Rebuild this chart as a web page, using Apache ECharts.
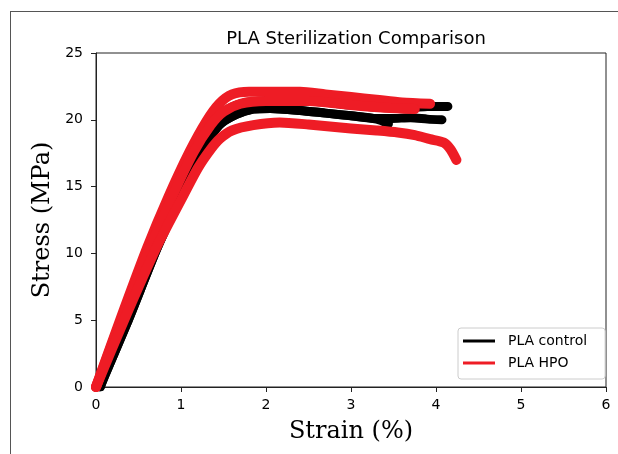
<!DOCTYPE html>
<html>
<head>
<meta charset="utf-8">
<script src="https://cdn.jsdelivr.net/npm/echarts@6/dist/echarts.min.js"></script>
<style>
  html, body { margin: 0; padding: 0; background: #fff; }
  #frame { position: absolute; left: 10px; top: 11px; width: 620px; height: 460px;
           border-left: 1px solid #555; border-top: 1px solid #555; }
  #chart { position: absolute; left: 0; top: 0; width: 618px; height: 454px; }
</style>
</head>
<body>
<div id="frame"></div>
<div id="chart"></div>
<script>
// Axis ticks
const xTicks = [0, 1, 2, 3, 4, 5, 6];
const yTicks = [0, 5, 10, 15, 20, 25];

// PLA control specimens: [strain %, stress MPa]
const control1 = [[0.05,0],[0.1,0.8],[0.38,5],[0.72,10.4],[1.0,14.3],[1.26,17.8],[1.45,19.6],[1.65,20.4],[1.85,20.8],[2.05,20.85],[2.4,20.7],[2.7,20.5],[3.0,20.3],[3.3,20.05],[3.44,19.7]];
const control2 = [[0.05,0],[0.1,0.8],[0.38,5],[0.72,10.4],[1.0,14.3],[1.26,17.8],[1.45,19.6],[1.65,20.4],[1.85,20.8],[2.05,20.85],[2.4,20.7],[2.7,20.5],[3.0,20.3],[3.3,20.1],[3.48,20.1],[3.7,20.15],[3.9,20.05],[4.07,20.0]];
const control3 = [[0,0],[0.3,5.1],[0.62,10.2],[0.9,14.3],[1.15,17.6],[1.35,19.6],[1.5,20.6],[1.7,21.2],[2.0,21.4],[2.5,21.4],[3.0,21.1],[3.4,20.9],[3.7,20.9],[3.9,21.0],[4.14,21.0]];

// PLA HPO specimens
const hpo1 = [[0,0],[0.3,5.3],[0.6,10.4],[0.85,14.2],[1.1,17.6],[1.3,19.9],[1.45,21.2],[1.6,21.9],[1.8,22.1],[2.1,22.1],[2.4,22.1],[2.7,21.9],[3.0,21.7],[3.3,21.5],[3.6,21.3],[3.93,21.2]];
const hpo2 = [[0,0],[0.3,5.1],[0.62,10.2],[0.9,14.3],[1.15,17.6],[1.35,19.6],[1.5,20.6],[1.7,21.2],[2.0,21.4],[2.5,21.4],[3.0,21.1],[3.4,20.9],[3.75,20.8]];
const hpo3 = [[0,0],[0.33,5],[0.7,10.3],[1.0,14.0],[1.2,16.4],[1.35,17.8],[1.46,18.6],[1.6,19.2],[1.85,19.6],[2.16,19.8],[2.5,19.65],[3.0,19.35],[3.3,19.2],[3.55,19.05],[3.75,18.85],[3.93,18.55],[4.09,18.3],[4.17,17.8],[4.24,17.0]];

const controlSets = [control1, control2, control3];
const hpoSets = [hpo1, hpo2, hpo3];

const chart = echarts.init(document.getElementById('chart'), null, { renderer: 'canvas' });

function mk(name, color, data, width) {
  return {
    name: name, type: 'line', data: data, showSymbol: false, symbol: 'none', smooth: 0.25,
    lineStyle: { color: color, width: width, cap: 'round', join: 'round' },
    itemStyle: { color: color }, animation: false, silent: true
  };
}

const series = [];
controlSets.forEach(d => series.push(mk('PLA control', '#000000', d, 9)));
hpoSets.forEach(d => series.push(mk('PLA HPO', '#ee1c25', d, 10)));

const sansFont = 'DejaVu Sans';
const serifFont = 'DejaVu Serif';

chart.setOption({
  backgroundColor: 'transparent',
  animation: false,
  title: {
    text: 'PLA Sterilization Comparison',
    left: 351, top: 25, textAlign: 'center',
    textStyle: { fontFamily: sansFont, fontSize: 18, fontWeight: 'normal', color: '#000' }
  },
  grid: { left: 96, right: 12, top: 53, bottom: 67, show: true, borderColor: '#222', borderWidth: 1 },
  legend: {
    data: ['PLA control', 'PLA HPO'],
    orient: 'vertical', left: 458, top: 328,
    icon: 'rect', itemWidth: 32, itemHeight: 3, itemGap: 8,
    padding: [6, 18, 9, 5],
    backgroundColor: '#fff', borderColor: '#ccc', borderWidth: 1, borderRadius: 3,
    textStyle: { fontFamily: sansFont, fontSize: 14, color: '#000', padding: [0, 0, 0, 8] }
  },
  xAxis: {
    type: 'value', min: xTicks[0], max: xTicks[xTicks.length - 1], interval: 1,
    name: 'Strain (%)', nameLocation: 'middle', nameGap: 33,
    nameTextStyle: { fontFamily: serifFont, fontSize: 24, color: '#000' },
    axisLine: { show: true, onZero: false, lineStyle: { color: '#222', width: 1 } },
    axisTick: { show: true, inside: false, length: 5, lineStyle: { color: '#222' } },
    axisLabel: { fontFamily: sansFont, fontSize: 14, color: '#000', margin: 11 },
    splitLine: { show: false }
  },
  yAxis: {
    type: 'value', min: yTicks[0], max: yTicks[yTicks.length - 1], interval: 5,
    name: 'Stress (MPa)', nameLocation: 'middle', nameGap: 41,
    nameTextStyle: { fontFamily: serifFont, fontSize: 24, color: '#000' },
    axisLine: { show: true, onZero: false, lineStyle: { color: '#222', width: 1 } },
    axisTick: { show: true, inside: false, length: 5, lineStyle: { color: '#222' } },
    axisLabel: { fontFamily: sansFont, fontSize: 14, color: '#000', margin: 13 },
    splitLine: { show: false }
  },
  series: series
});
</script>
</body>
</html>
